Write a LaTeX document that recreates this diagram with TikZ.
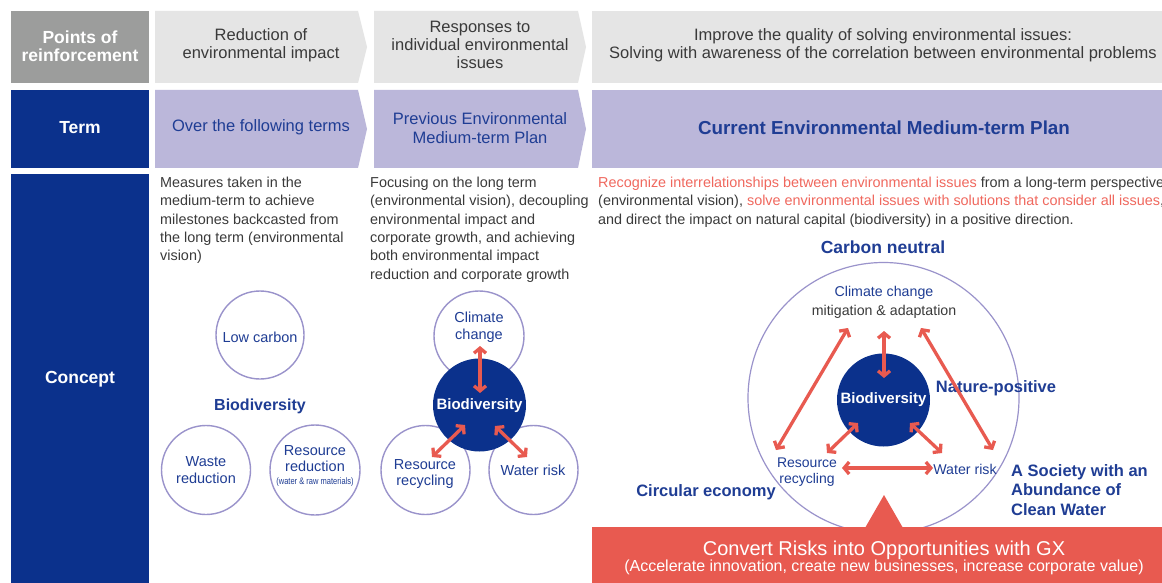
\documentclass[tikz,border=0pt]{standalone}
\usepackage{fontspec}
\setmainfont{Liberation Sans}
\usetikzlibrary{arrows.meta}
\definecolor{boxgray}{HTML}{9C9D9C}
\definecolor{lightgray}{HTML}{E5E5E5}
\definecolor{lilac}{HTML}{BBB7DA}
\definecolor{navy}{HTML}{0B318C}
\definecolor{bluetxt}{HTML}{1F3D94}
\definecolor{lav}{HTML}{9A93CB}
\definecolor{redbox}{HTML}{E85A50}
\definecolor{redtxt}{HTML}{F0685E}
\definecolor{txtgray}{HTML}{3A3A3A}
\begin{document}
\begin{tikzpicture}[x=1pt,y=-1pt,
  hdr/.style={text=txtgray, font=\fontsize{16.5}{18}\selectfont, align=center, inner sep=0},
  termtxt/.style={text=bluetxt, font=\fontsize{16.5}{18.5}\selectfont, align=center, inner sep=0},
  sidetxt/.style={text=white, font=\bfseries\fontsize{17.5}{18.5}\selectfont, align=center, inner sep=0},
  body/.style={text=txtgray, font=\fontsize{14.4}{18.3}\selectfont, align=left, anchor=north west, inner sep=0},
  clabel/.style={text=bluetxt, font=\fontsize{14.5}{16.5}\selectfont, align=center, inner sep=0},
  blabel/.style={text=bluetxt, font=\bfseries\fontsize{16.5}{19.5}\selectfont, inner sep=0},
  bubble/.style={circle, draw=lav, line width=1.4pt, inner sep=0, minimum size=#1},
  core/.style={circle, fill=navy, inner sep=0, minimum size=#1},
  dbl/.style={draw=redbox, line width=3.3pt, {Straight Barb[length=5pt,width=12pt]}-{Straight Barb[length=5pt,width=12pt]}}
]
\useasboundingbox (0,0) rectangle (1162,583);
\clip (0,0) rectangle (1162,583);
\fill[white] (0,0) rectangle (1162,583);

% ---- left column boxes
\fill[boxgray] (11,11) rectangle (149,83);
\node[sidetxt] (pts) at (80,46) {Points of\\reinforcement};
\fill[navy] (11,90) rectangle (149,168);
\node[sidetxt] (term) at (80,128) {Term};
\fill[navy] (11,174) rectangle (149,583);
\node[sidetxt] (concept) at (80,379) {Concept};

% ---- row 1 chevrons
\fill[lightgray] (155,11) -- (358,11) -- (367,47) -- (358,83) -- (155,83) -- cycle;
\fill[lightgray] (374,11) -- (578,11) -- (586,47) -- (578,83) -- (374,83) -- cycle;
\fill[lightgray] (592,11) rectangle (1162,83);
\node[hdr] (h1) at (261,45) {Reduction of\\environmental impact};
\node[hdr] (h2) at (480,45) {Responses to\\individual environmental\\issues};
\node[hdr] (h3) at (883,45) {Improve the quality of solving environmental issues:\\Solving with awareness of the correlation between environmental problems};

% ---- row 2 chevrons
\fill[lilac] (155,90) -- (358,90) -- (367,129) -- (358,168) -- (155,168) -- cycle;
\fill[lilac] (374,90) -- (578,90) -- (586,129) -- (578,168) -- (374,168) -- cycle;
\fill[lilac] (592,90) rectangle (1162,168);
\node[termtxt] (t1) at (261,127) {Over the following terms};
\node[termtxt] (t2) at (480,128) {Previous Environmental\\Medium-term Plan};
\node[termtxt, font=\bfseries\fontsize{18.8}{20}\selectfont] (t3) at (884,128) {Current Environmental Medium-term Plan};

% ---- concept texts
\node[body] (c1) at (160,177) {Measures taken in the\\medium-term to achieve\\milestones backcasted from\\the long term (environmental\\vision)};
\node[body] (c2) at (370,177) {Focusing on the long term\\(environmental vision), decoupling\\environmental impact and\\corporate growth, and achieving\\both environmental impact\\reduction and corporate growth};
\node[body] (c3) at (598,177) {{\color{redtxt}Recognize interrelationships between environmental issues} from a long-term perspective\\(environmental vision), {\color{redtxt}solve environmental issues with solutions that consider all issues},\\and direct the impact on natural capital (biodiversity) in a positive direction.};

% ---- left diagram
\node[bubble=88pt] (lc) at (260,335) {};
\node[bubble=89pt] (wr) at (206,470) {};
\node[bubble=90pt] (rr) at (315,470) {};
\node[clabel] (lct) at (260,337) {Low carbon};
\node[clabel] (wrt) at (206,470) {Waste\\reduction};
\node[clabel, font=\fontsize{14.5}{16}\selectfont] (rrt) at (315,466) {Resource\\reduction\\[-3pt]{\fontsize{9.4}{10}\selectfont\addfontfeature{FakeStretch=0.8}(water \& raw materials)}};
\node[blabel, font=\bfseries\fontsize{16}{19}\selectfont] (bd1) at (260,406) {Biodiversity};

% ---- middle diagram
\node[bubble=90pt] (cc) at (479,336) {};
\node[bubble=89pt] (rc) at (425.5,470) {};
\node[bubble=89pt] (wk) at (533.5,470) {};
\node[core=93pt] (bd2) at (479.5,405) {};
\node[clabel] (cct) at (479,327) {Climate\\change};
\node[clabel] (rct) at (425,474) {Resource\\recycling};
\node[clabel] (wkt) at (533,470) {Water risk};
\node[text=white, font=\bfseries\fontsize{15}{18}\selectfont, inner sep=0] (bd2t) at (479.5,406) {Biodiversity};
\coordinate (m1a) at (480,346); \coordinate (m1b) at (480,393);
\coordinate (m2a) at (465,425); \coordinate (m2b) at (432,457);
\coordinate (m3a) at (495,426); \coordinate (m3b) at (527,457);
\draw[dbl] (m1a) -- (m1b);
\draw[dbl] (m2a) -- (m2b);
\draw[dbl] (m3a) -- (m3b);

% ---- right diagram
\node[bubble=271pt, line width=1.2pt] (big) at (883.5,398) {};
\node[core=93pt] (bd3) at (883.5,400) {};
\node[text=white, font=\bfseries\fontsize{15}{18}\selectfont, inner sep=0] (bd3t) at (883.5,400) {Biodiversity};
\node[blabel, font=\bfseries\fontsize{17.5}{20}\selectfont] (cn) at (883,247) {Carbon neutral};
\node[blabel] (np) at (996,388) {Nature-positive};
\node[blabel, align=left, anchor=west] (sw) at (1011,490) {A Society with an\\Abundance of\\Clean Water};
\node[blabel] (ce) at (706,492) {Circular economy};
\node[clabel, font=\fontsize{14.2}{19}\selectfont] (cct3) at (884,302) {Climate change\\{\color{txtgray}mitigation \& adaptation}};
\node[clabel, font=\fontsize{14}{16.5}\selectfont] (rct3) at (807,472) {Resource\\recycling};
\node[clabel, font=\fontsize{14.2}{16}\selectfont] (wkt3) at (965,469) {Water risk};
\coordinate (r1a) at (884,331); \coordinate (r1b) at (884,378);
\coordinate (r2a) at (848,328); \coordinate (r2b) at (776,450);
\coordinate (r3a) at (921,328); \coordinate (r3b) at (993,450);
\coordinate (r4a) at (858,423); \coordinate (r4b) at (827,453);
\coordinate (r5a) at (910,423); \coordinate (r5b) at (942,453);
\coordinate (r6a) at (842,468); \coordinate (r6b) at (933,468);
\draw[dbl] (r1a) -- (r1b);
\draw[dbl] (r2a) -- (r2b);
\draw[dbl] (r3a) -- (r3b);
\draw[dbl] (r4a) -- (r4b);
\draw[dbl] (r5a) -- (r5b);
\draw[dbl] (r6a) -- (r6b);

% ---- bottom red banner
\fill[redbox] (592,527) rectangle (1162,583);
\fill[redbox] (865,528) -- (884,495) -- (903,528) -- cycle;
\node[text=white, font=\fontsize{20}{22}\selectfont, inner sep=0] (gx) at (884,550) {Convert Risks into Opportunities with GX};
\node[text=white, font=\fontsize{16}{18}\selectfont, inner sep=0] (gx2) at (884,567) {(Accelerate innovation, create new businesses, increase corporate value)};
\end{tikzpicture}
\end{document}
